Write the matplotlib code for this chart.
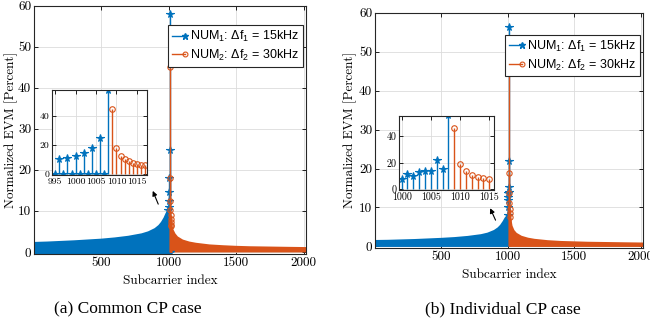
import matplotlib.pyplot as plt
import numpy as np
from matplotlib.legend_handler import HandlerLine2D
from matplotlib.lines import Line2D

plt.rcParams['font.family'] = ['cmr10', 'DejaVu Serif']
plt.rcParams['mathtext.fontset'] = 'custom'
plt.rcParams['mathtext.rm'] = 'Liberation Sans'
plt.rcParams['mathtext.it'] = 'Liberation Sans:italic'

BLUE = '#0072BD'
ORANGE = '#D95319'

# ---- (a) Common CP case ----
# envelope of the dense stems (too many to read one by one)
a_blue_env_x = [1, 100, 200, 300, 400, 500, 600, 700, 800, 850, 900, 930, 950, 970, 985, 994]
a_blue_env_y = [2.1, 2.2, 2.35, 2.5, 2.7, 2.9, 3.2, 3.6, 4.2, 4.7, 5.5, 6.3, 7.1, 8.2, 9.3, 9.8]
a_orange_env_x = [1018, 1025, 1040, 1060, 1100, 1150, 1200, 1300, 1400, 1500, 1600, 1700, 1800, 1900, 2016]
a_orange_env_y = [6.0, 5.3, 4.3, 3.5, 2.7, 2.2, 1.9, 1.5, 1.3, 1.15, 1.05, 1.0, 0.95, 0.9, 0.85]
# individual subcarriers around the band edge
a_blue_x = list(range(995, 1009))
a_blue_y = [0, 10.3, 0, 11.0, 0, 12.4, 0, 14.7, 0, 17.9, 0, 24.8, 0, 58.0]
a_orange_x = list(range(1009, 1018))
a_orange_y = [45.0, 17.9, 12.4, 10.3, 9.0, 8.0, 7.3, 6.6, 6.2]

# ---- (b) Individual CP case ----
b_blue_env_x = [1, 100, 200, 300, 400, 500, 600, 700, 800, 850, 900, 930, 950, 970, 985, 999]
b_blue_env_y = [1.3, 1.35, 1.45, 1.55, 1.7, 1.85, 2.05, 2.35, 2.8, 3.2, 3.9, 4.6, 5.3, 6.3, 7.2, 7.8]
b_orange_env_x = [1016, 1025, 1040, 1060, 1100, 1150, 1200, 1300, 1400, 1500, 1600, 1700, 1800, 1900, 2016]
b_orange_env_y = [7.0, 5.2, 4.0, 3.2, 2.4, 1.9, 1.6, 1.25, 1.05, 0.95, 0.85, 0.8, 0.75, 0.7, 0.65]
b_blue_x = list(range(1000, 1009))
b_blue_y = [8.0, 11.8, 10.1, 12.8, 13.6, 14.1, 21.9, 15.3, 56.2]
b_orange_x = list(range(1009, 1016))
b_orange_y = [46.3, 18.9, 13.6, 11.1, 9.6, 8.6, 7.5]

labels = [r'NUM$_1$: Δf$_1$ = 15kHz', r'NUM$_2$: Δf$_2$ = 30kHz']


class EndMarker(HandlerLine2D):
    # MATLAB style: marker at the right end of the legend line
    def create_artists(self, *args, **kwargs):
        arts = super().create_artists(*args, **kwargs)
        arts[0].set_markevery([2])
        return arts


def stems(ax, x, y, color, marker, ms):
    m, s, b = ax.stem(x, y, basefmt=' ')
    plt.setp(s, color=color, lw=1)
    plt.setp(m, color=color, marker=marker, markersize=ms,
             markerfacecolor=color if marker == '*' else 'none', mew=0.8)
    b.set_visible(False)


def style(ax, size):
    ax.grid(True, color='#dcdcdc', lw=0.6)
    ax.set_axisbelow(True)
    ax.tick_params(direction='in', length=3, width=0.6, top=True, right=True,
                   labelsize=size, pad=2)
    for sp in ax.spines.values():
        sp.set_linewidth(0.8)
        sp.set_color('#262626')


def panel(fig, rect, inset_rect, benv, oenv, bx, by, ox, oy, ylim, ixlim, iylim,
          ixticks, leg_anchor, ylab_x, zero_band):
    ax = fig.add_axes(rect)
    ax.fill_between(benv[0], 0, benv[1], color=BLUE, lw=0)
    ax.plot(benv[0], benv[1], color=BLUE, lw=2)
    ax.fill_between(oenv[0], 0, oenv[1], color=ORANGE, lw=0)
    ax.plot(oenv[0], oenv[1], color=ORANGE, lw=2)
    if zero_band:
        ax.plot([1, 1008], [0, 0], color=BLUE, lw=4, solid_capstyle='butt')
    stems(ax, bx, by, BLUE, '*', 5.5)
    stems(ax, ox, oy, ORANGE, 'o', 3.8)
    ax.set_xlim(1, 2016)
    ax.set_ylim(*ylim)
    ax.set_xticks([500, 1000, 1500, 2000])
    ax.set_yticks(range(0, 61, 10))
    style(ax, 9.5)
    ax.set_xlabel('Subcarrier index', fontsize=9.5, labelpad=4)
    ax.set_ylabel('Normalized EVM [Percent]', fontsize=9.5)
    ax.yaxis.set_label_coords(ylab_x, 0.5)

    h1 = Line2D([], [], color=BLUE, marker='*', markersize=5, lw=1)
    h2 = Line2D([], [], color=ORANGE, marker='o', markersize=3.5,
                markerfacecolor='none', mew=0.8, lw=1)
    leg = ax.legend([h1, h2], labels, loc='upper right', bbox_to_anchor=leg_anchor,
                    borderaxespad=0, fancybox=False, framealpha=1, numpoints=1,
                    handlelength=1.1, handletextpad=0.4, borderpad=0.3,
                    labelspacing=0.3, handler_map={Line2D: EndMarker()},
                    prop={'family': 'Liberation Sans', 'size': 9})
    leg.get_frame().set_edgecolor('#262626')
    leg.get_frame().set_linewidth(0.8)

    ins = fig.add_axes(inset_rect)
    stems(ins, bx, by, BLUE, '*', 5.5)
    stems(ins, ox, oy, ORANGE, 'o', 4)
    ins.set_xlim(*ixlim)
    ins.set_ylim(*iylim)
    ins.set_xticks(ixticks)
    ins.set_yticks([0, 20, 40])
    style(ins, 7.2)
    return ax, ins


fig = plt.figure(figsize=(6.5, 3.28), dpi=100)

ax_a, ins_a = panel(fig, [0.0523, 0.2256, 0.4185, 0.7576],
                    [0.0805, 0.4665, 0.1452, 0.259],
                    (a_blue_env_x, a_blue_env_y), (a_orange_env_x, a_orange_env_y),
                    a_blue_x, a_blue_y, a_orange_x, a_orange_y,
                    (-0.5, 60), (994.3, 1017.4), (-0.5, 58),
                    [995, 1000, 1005, 1010, 1015], (0.989, 0.921), -0.06, True)
ins_a.tick_params(labelsize=7)

ax_b, ins_b = panel(fig, [0.5769, 0.2439, 0.4123, 0.7174],
                    [0.6143, 0.4207, 0.1457, 0.2265],
                    (b_blue_env_x, b_blue_env_y), (b_orange_env_x, b_orange_env_y),
                    b_blue_x, b_blue_y, b_orange_x, b_orange_y,
                    (-0.4, 60), (999.6, 1015.8), (-0.5, 55.5),
                    [1000, 1005, 1010, 1015], (0.989, 0.905), -0.066, False)

# arrows pointing to the zoomed region
arrow = dict(arrowstyle='-|>', color='k', lw=0.8, mutation_scale=7)
ax_a.annotate('', xy=(151.7, 139.7), xycoords='figure pixels',
              xytext=(159.3, 121.3), textcoords='figure pixels', arrowprops=arrow)
ax_b.annotate('', xy=(489, 122.3), xycoords='figure pixels',
              xytext=(496.7, 105.3), textcoords='figure pixels', arrowprops=arrow)

fig.text(128 / 650, 1 - 309 / 328, '(a) Common CP case', ha='center', va='center',
         family='Liberation Serif', fontsize=12.5)
fig.text(503 / 650, 1 - 309 / 328, '(b) Individual CP case', ha='center', va='center',
         family='Liberation Serif', fontsize=12.5)

fig.savefig('out.png', dpi=100)
